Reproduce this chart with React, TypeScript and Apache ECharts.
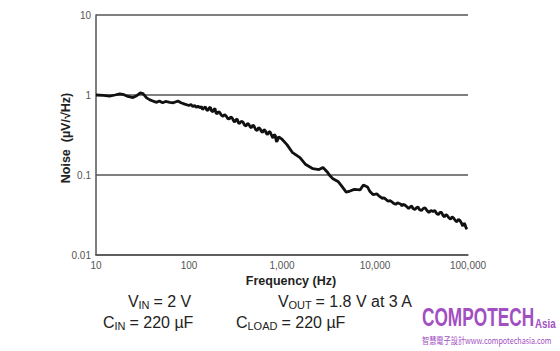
import React, { useEffect, useRef } from "react";
import * as echarts from "echarts";

const freqHz = [
  10, 12, 14, 16, 18, 20, 22, 25, 27, 30, 32, 35, 38, 41, 45, 48, 52, 56, 62, 68, 76, 82, 90,
  100, 105, 110, 115, 120, 125, 131, 136, 140, 145, 150, 155, 160, 165, 170, 175, 181, 186, 190,
  195, 200, 207, 215, 223, 232, 241, 250, 260, 270, 280, 290, 300, 310, 320, 330, 340, 350, 365,
  380, 395, 410, 425, 440, 455, 470, 485, 500, 520, 540, 560, 580, 600, 620, 640, 660, 680, 700,
  725, 750, 775, 800, 825, 850, 865, 880, 900, 920, 960, 1000, 1130, 1300,
  1560, 1800, 2150, 2500, 2760, 3050, 3300, 3530, 4000, 4410, 4900, 5380, 6000, 6900, 7500, 8300,
  8830, 9500, 10500, 11000, 11500, 12000, 12500, 13000, 13500, 14000, 14500, 15200, 16000, 16700,
  17500, 18200, 19000, 19500, 20000, 21000, 22000, 23000, 24000, 24800, 25600, 26800, 28000,
  29000, 30000, 31500, 33000, 34500, 36200, 38000, 40000, 42000, 44000, 46000, 48000, 50000,
  52000, 54000, 56000, 58000, 60000, 62500, 65000, 67500, 70000, 73000, 76000, 79000, 82000,
  85000, 88000, 90500, 93000, 95000, 97500,
];
const noise = [
  1.0, 0.99, 0.97, 1.0, 1.03, 1.01, 0.96, 0.93, 0.97, 1.06, 1.04, 0.92, 0.87, 0.84, 0.81, 0.84,
  0.8, 0.83, 0.81, 0.8, 0.84, 0.8, 0.77,
  0.74, 0.76, 0.72, 0.74, 0.7, 0.73, 0.69, 0.72, 0.66, 0.69, 0.71, 0.65, 0.64, 0.69, 0.7, 0.63,
  0.62, 0.66, 0.68, 0.6, 0.58, 0.62, 0.6, 0.56, 0.54, 0.57, 0.55, 0.51, 0.5, 0.53, 0.52, 0.48,
  0.46, 0.49, 0.5, 0.45, 0.44, 0.47, 0.46, 0.42, 0.41, 0.44, 0.43, 0.4, 0.39, 0.42, 0.41, 0.37,
  0.36, 0.39, 0.38, 0.35, 0.34, 0.37, 0.36, 0.33, 0.32, 0.35, 0.34, 0.31, 0.29, 0.32, 0.31, 0.27,
  0.26, 0.28, 0.3, 0.29, 0.28, 0.24, 0.19, 0.165, 0.135, 0.12, 0.117,
  0.124, 0.11, 0.097, 0.09, 0.083, 0.072, 0.061, 0.063, 0.066, 0.065, 0.075, 0.071, 0.062, 0.057,
  0.058, 0.055, 0.053, 0.051, 0.052, 0.05, 0.048, 0.047, 0.048, 0.046, 0.044, 0.043, 0.045, 0.044,
  0.043, 0.041, 0.043, 0.042, 0.04, 0.038, 0.04, 0.041, 0.038, 0.037, 0.039, 0.04, 0.037, 0.036,
  0.038, 0.039, 0.036, 0.034, 0.036, 0.035, 0.036, 0.033, 0.032, 0.034, 0.034, 0.031, 0.03, 0.032,
  0.031, 0.029, 0.028, 0.03, 0.029, 0.027, 0.026, 0.028, 0.027, 0.025, 0.023, 0.025, 0.024, 0.022,
  0.021,
];
const yTickLabels: Record<string, string> = { "-2": "0.01", "-1": "0.1", "0": "1", "1": "10" };

const axisColor = "#555";
const labelColor = "#555";
const purple = "#a24fc2";
const textFont = "'Liberation Sans', Arial, sans-serif";

export default function App() {
  const ref = useRef<HTMLDivElement>(null);
  useEffect(() => {
    if (!ref.current) return;
    const chart = echarts.init(ref.current, null, { renderer: "svg" });
    const data = freqHz.map((f, i) => [f, noise[i]]);
    chart.setOption({
      animation: false,
      backgroundColor: "#fff",
      grid: { left: 96, right: 92, top: 15, bottom: 96, containLabel: false },
      xAxis: {
        type: "log",
        logBase: 10,
        min: 10,
        max: 100000,
        axisLine: { show: true, lineStyle: { color: axisColor, width: 1.5 } },
        axisTick: { show: false },
        splitLine: { show: false },
        minorTick: { show: false },
        axisLabel: {
          color: labelColor,
          fontSize: 10,
          fontFamily: textFont,
          margin: 5,
          formatter: (v: number) => Math.round(v).toLocaleString("en-US"),
        },
      },
      yAxis: {
        type: "log",
        logBase: 10,
        min: 0.01,
        max: 10,
        axisLine: { show: true, lineStyle: { color: axisColor, width: 1.5 } },
        axisTick: { show: false },
        splitLine: { show: true, lineStyle: { color: axisColor, width: 1.5 } },
        axisLabel: {
          color: labelColor,
          fontSize: 10,
          fontFamily: textFont,
          margin: 5,
          formatter: (v: number) => yTickLabels[String(Math.round(Math.log10(v)))] ?? String(v),
        },
      },
      series: [
        {
          type: "line",
          data,
          showSymbol: false,
          symbol: "none",
          lineStyle: { color: "#111", width: 2.8 },
          z: 5,
        },
      ],
      graphic: [
        {
          type: "text",
          x: 66,
          y: 138,
          rotation: Math.PI / 2,
          style: {
            text: "Noise  (µV/√Hz)",
            fontSize: 12.5,
            fontWeight: "bold",
            fontFamily: textFont,
            fill: "#222",
            align: "center",
            verticalAlign: "middle",
          },
        },
        {
          type: "text",
          x: 291,
          y: 281,
          style: {
            text: "Frequency (Hz)",
            fontSize: 12.5,
            fontWeight: "bold",
            fontFamily: textFont,
            fill: "#222",
            align: "center",
            verticalAlign: "middle",
          },
        },
        // V_IN
        { type: "text", x: 128, y: 293, style: { text: "V", fontSize: 16, fontFamily: textFont, fill: "#222" } },
        { type: "text", x: 138.5, y: 299, style: { text: "IN", fontSize: 11, fontFamily: textFont, fill: "#222" } },
        { type: "text", x: 149, y: 293, style: { text: " = 2 V", fontSize: 16, fontFamily: textFont, fill: "#222" } },
        // V_OUT
        { type: "text", x: 278, y: 293, style: { text: "V", fontSize: 16, fontFamily: textFont, fill: "#222" } },
        { type: "text", x: 288.5, y: 299, style: { text: "OUT", fontSize: 11, fontFamily: textFont, fill: "#222" } },
        { type: "text", x: 311, y: 293, style: { text: " = 1.8 V at 3 A", fontSize: 16, fontFamily: textFont, fill: "#222" } },
        // C_IN
        { type: "text", x: 103, y: 314, style: { text: "C", fontSize: 16, fontFamily: textFont, fill: "#222" } },
        { type: "text", x: 114.5, y: 320, style: { text: "IN", fontSize: 11, fontFamily: textFont, fill: "#222" } },
        { type: "text", x: 125, y: 314, style: { text: " = 220 µF", fontSize: 16, fontFamily: textFont, fill: "#222" } },
        // C_LOAD
        { type: "text", x: 236, y: 314, style: { text: "C", fontSize: 16, fontFamily: textFont, fill: "#222" } },
        { type: "text", x: 247.5, y: 320, style: { text: "LOAD", fontSize: 11, fontFamily: textFont, fill: "#222" } },
        { type: "text", x: 277, y: 314, style: { text: " = 220 µF", fontSize: 16, fontFamily: textFont, fill: "#222" } },
        // Logo
        {
          type: "text",
          x: 422,
          y: 330,
          scaleX: 0.69,
          style: {
            text: "COMPOTECH",
            fontSize: 25,
            fontWeight: "bold",
            fontFamily: textFont,
            fill: purple,
            verticalAlign: "bottom",
          },
        },
        {
          type: "text",
          x: 535,
          y: 330,
          scaleX: 0.75,
          style: {
            text: "Asia",
            fontSize: 13,
            fontWeight: "bold",
            fontFamily: textFont,
            fill: purple,
            verticalAlign: "bottom",
          },
        },
        {
          type: "text",
          x: 422,
          y: 340,
          scaleX: 0.8,
          style: {
            text: "智慧電子設計www.compotechasia.com",
            fontSize: 9,
            fontFamily: "'Noto Sans CJK TC', 'Noto Sans', sans-serif",
            fill: purple,
            verticalAlign: "middle",
          },
        },
      ],
    });
    return () => chart.dispose();
  }, []);
  return <div ref={ref} style={{ width: 560, height: 351, position: "absolute", left: 0, top: 0 }} />;
}
